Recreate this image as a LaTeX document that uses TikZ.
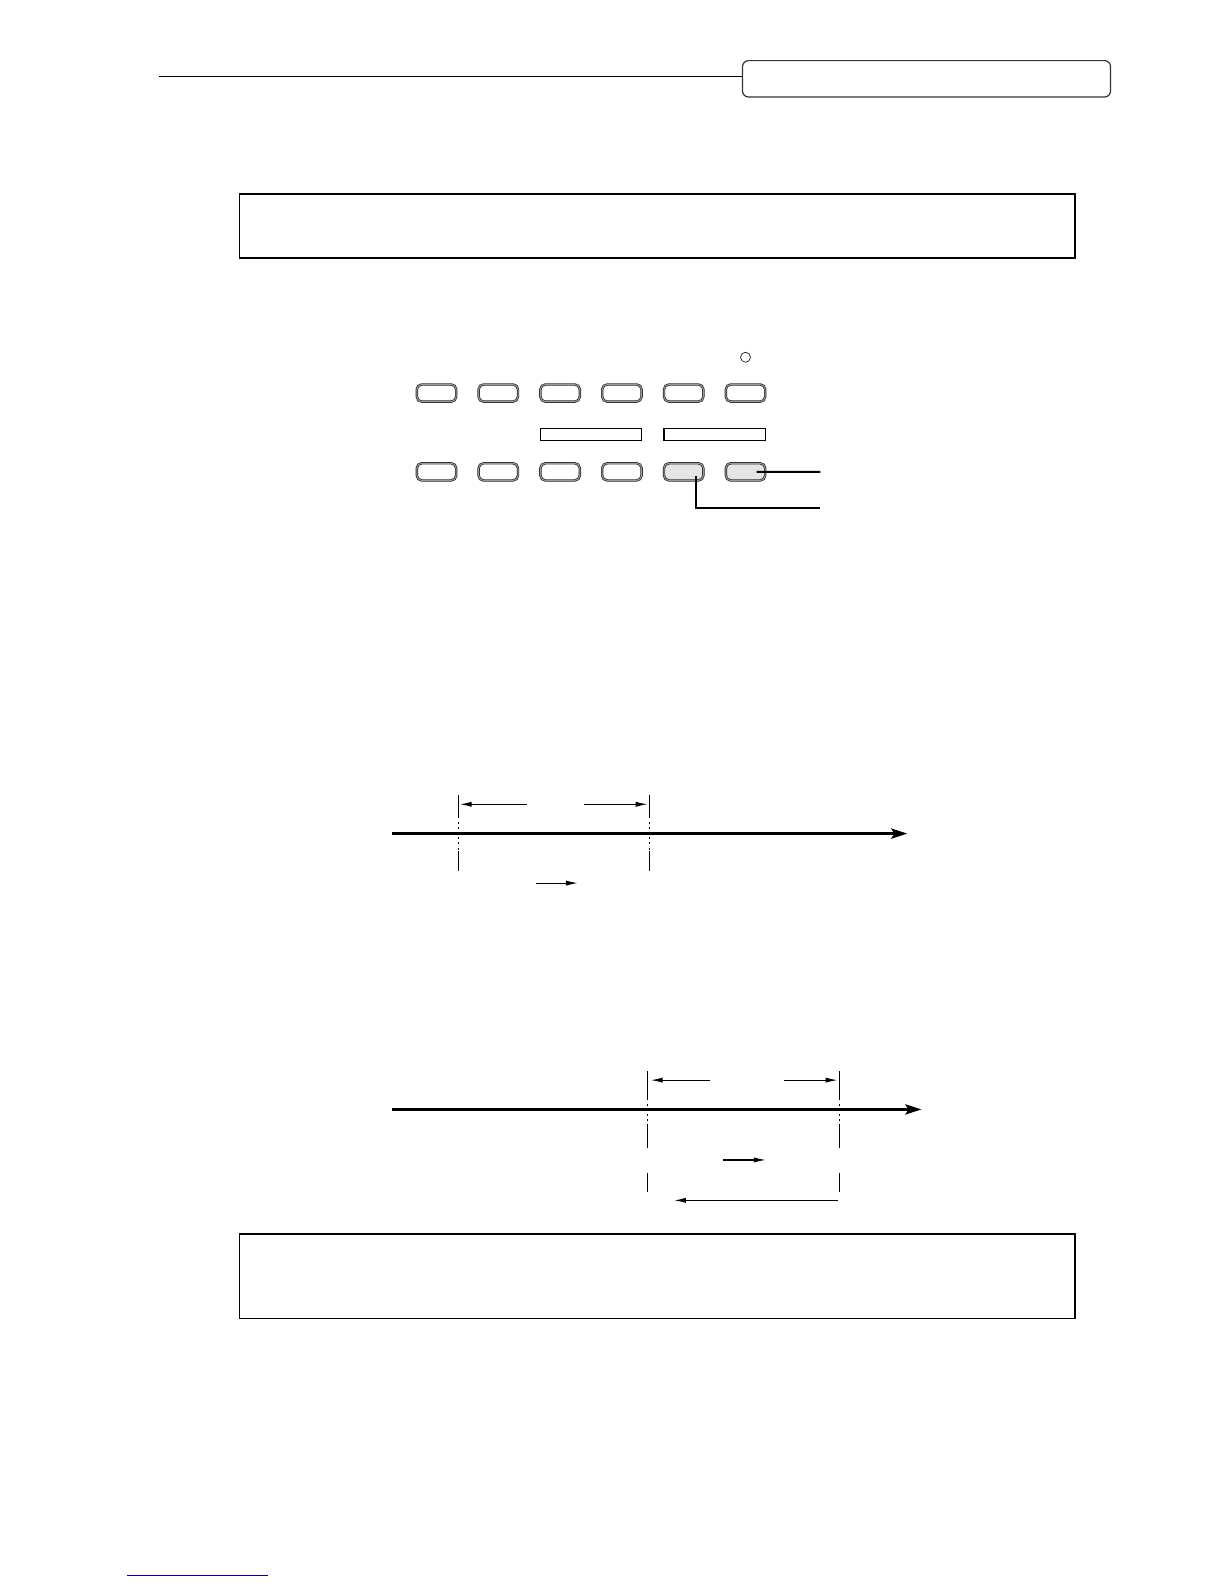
\documentclass[tikz,border=0pt]{standalone}
\usetikzlibrary{positioning,calc}
\usetikzlibrary{arrows.meta}
\tikzset{
  btn/.style={rectangle, rounded corners=2.5pt, minimum width=19.7pt,
    minimum height=8.6pt, inner sep=0pt, outer sep=0pt, draw=black!85,
    double=black!40, double distance=0.5pt, line width=0.35pt},
  btnlit/.style={btn, fill=black!10},
  leader/.style={line width=1pt},
  axisline/.style={line width=1.5pt, -{Stealth[length=8pt,width=5pt,inset=1.5pt]}},
  dimarrow/.style={line width=0.6pt, -{Latex[length=6pt,width=2.6pt]}},
  tick/.style={line width=0.5pt},
  tickdot/.style={line width=0.5pt, dash pattern=on 1pt off 1.6pt},
  textbox/.style={line width=0.9pt}
}
\begin{document}
\begin{tikzpicture}[x=0.5052pt,y=-0.5052pt]
   \fill[white] (0pt,0pt) rectangle (612pt,-792pt);

   % page header
   \coordinate (h0) at (157,76);
   \node[draw=black!80, line width=0.6pt, rounded corners=3pt,
     minimum width=184pt, minimum height=18.2pt, inner sep=0pt] (hbox) at (917,78) {};
   \draw[line width=0.6pt] (h0) -- (hbox.west |- h0);

   % upper box
   \draw[textbox] (237,192) rectangle (1064,255);

   % panel, upper row
   \node[btn]                   (t1) at (432,389) {};
   \node[btn, right=11.2pt of t1] (t2) {};
   \node[btn, right=11.2pt of t2] (t3) {};
   \node[btn, right=11.2pt of t3] (t4) {};
   \node[btn, right=11.2pt of t4] (t5) {};
   \node[btn, right=11.2pt of t5] (t6) {};
   \node[circle, draw=black!80, line width=0.4pt, minimum size=5pt,
     inner sep=0pt, above=10.9pt of t6] (led) {};

   % panel, lower row
   \node[btn, below=30.8pt of t1]  (b1) {};
   \node[btn, right=11.2pt of b1]    (b2) {};
   \node[btn, right=11.2pt of b2]    (b3) {};
   \node[btn, right=11.2pt of b3]    (b4) {};
   \node[btnlit, right=11.2pt of b4] (b5) {};
   \node[btnlit, right=11.2pt of b5] (b6) {};

   % bars between rows
   \draw[line width=0.6pt] ($(t3.south west)+(0,-13.4pt)$) rectangle
     ($(t4.south east)+(0,-19.5pt)$);
   \draw[line width=0.6pt] ($(t5.south west)+(0,-13.4pt)$) rectangle
     ($(t6.south east)+(0,-19.5pt)$);

   % leaders
   \coordinate (l1) at (812,467);
   \coordinate (l2) at (812,503);
   \draw[leader] ($(b6.center)+(5.5pt,0)$) -- (l1);
   \draw[leader] ($(b5.center)+(6pt,-2pt)$) |- (l2);

   % first time line
   \coordinate (a1s) at (388,825);
   \coordinate (a1e) at (898,825);
   \coordinate (p1)  at (454,825);
   \coordinate (p2)  at (643,825);
   \draw[axisline] (a1s) -- (a1e);
   \draw[tick]    ($(p1)+(0,-38)$) -- ($(p1)+(0,-17)$);
   \draw[tickdot] ($(p1)+(0,-17)$) -- ($(p1)+(0,17)$);
   \draw[tick]    ($(p1)+(0,17)$)  -- ($(p1)+(0,37)$);
   \draw[tick]    ($(p2)+(0,-38)$) -- ($(p2)+(0,-17)$);
   \draw[tickdot] ($(p2)+(0,-17)$) -- ($(p2)+(0,17)$);
   \draw[tick]    ($(p2)+(0,17)$)  -- ($(p2)+(0,37)$);
   \draw[dimarrow] ($(p1)+(68,-29)$) -- ($(p1)+(1,-29)$);
   \draw[dimarrow] ($(p2)+(-65,-29)$) -- ($(p2)+(-2,-29)$);
   \draw[dimarrow] (530,874) -- (572,874);

   % second time line
   \coordinate (a2s) at (388,1098);
   \coordinate (a2e) at (912,1098);
   \coordinate (q1)  at (641,1098);
   \coordinate (q2)  at (831,1098);
   \draw[axisline] (a2s) -- (a2e);
   \draw[tick]    ($(q1)+(0,-38)$) -- ($(q1)+(0,-11)$);
   \draw[tickdot] ($(q1)+(0,-11)$) -- ($(q1)+(0,16)$);
   \draw[tick]    ($(q1)+(0,16)$)  -- ($(q1)+(0,38)$);
   \draw[tick]    ($(q1)+(0,63)$)  -- ($(q1)+(0,82)$);
   \draw[tick]    ($(q2)+(0,-38)$) -- ($(q2)+(0,-11)$);
   \draw[tickdot] ($(q2)+(0,-11)$) -- ($(q2)+(0,16)$);
   \draw[tick]    ($(q2)+(0,16)$)  -- ($(q2)+(0,38)$);
   \draw[tick]    ($(q2)+(0,63)$)  -- ($(q2)+(0,82)$);
   \draw[dimarrow] ($(q1)+(62,-29)$) -- ($(q1)+(3,-29)$);
   \draw[dimarrow] ($(q2)+(-55,-29)$) -- ($(q2)+(-2,-29)$);
   \draw[dimarrow] (716,1148) -- (758,1148);
   \draw[dimarrow] ($(q2)+(-2,90)$) -- ($(q1)+(26,90)$);

   % lower box
   \draw[textbox] (237,1221) rectangle (1064,1305);

   % footer rule
   \draw[blue!70!black, line width=0.7pt] (126,1559) -- (265,1559);

   \pgfresetboundingbox
   \useasboundingbox (0pt,0pt) rectangle (612pt,-792pt);
\end{tikzpicture}
\end{document}
